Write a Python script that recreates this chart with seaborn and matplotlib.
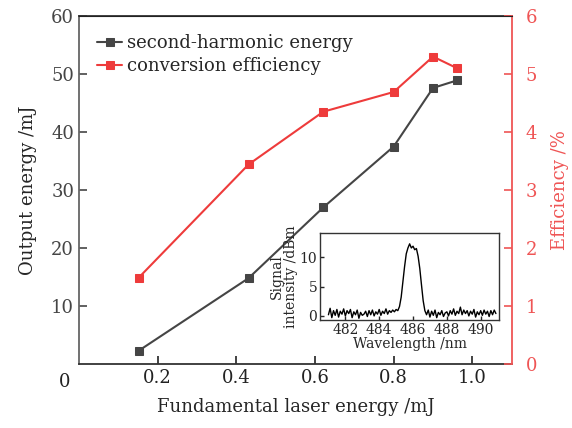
import numpy as np
import pandas as pd
import matplotlib
matplotlib.use("Agg")
import matplotlib.pyplot as plt
import seaborn as sns

# ---- data ----
fund_energy = [0.152, 0.431, 0.621, 0.800, 0.900, 0.961]
shg_energy = [2.3, 14.8, 27.0, 37.5, 47.6, 48.9]
conv_eff = [1.49, 3.44, 4.35, 4.69, 5.30, 5.10]

wl_start, wl_stop, wl_n = 481.0, 490.9, 100
signal = [0.2, 1.3, -0.3, 0.9, 0.1, 1.1, -0.2, 0.8, 0.3, 1.2,
          0.0, 0.9, 0.4, 1.1, -0.3, 0.7, 0.2, 1.0, -0.4, 0.6,
          0.1, 0.3, 0.8, -0.1, 0.9, 0.2, 1.0, 0.0, 0.7, 0.3,
          1.1, 0.1, 0.8, 0.4, 1.2, 0.3, 0.9, 0.6, 1.0, 0.7,
          1.1, 0.9, 1.6, 3.2, 5.8, 8.4, 10.6, 11.6, 12.3, 11.6,
          11.9, 11.3, 11.5, 10.2, 8.1, 5.3, 2.6, 0.9, 0.2, 1.0,
          -0.2, 0.8, 0.1, 1.0, -0.3, 0.6, 0.2, 0.9, -0.1, 0.5,
          0.7, 0.0, 0.9, 0.3, 1.2, 0.1, 0.8, 0.4, 1.5, 0.2,
          1.0, 0.4, 0.9, 0.0, 0.8, 0.3, 1.1, -0.2, 0.7, 0.2,
          0.9, 0.1, 1.0, 0.3, 0.8, -0.1, 0.9, 0.2, 1.0, 0.4]
wavelength = np.round(np.linspace(wl_start, wl_stop, wl_n), 2)

x_ticks = [0.2, 0.4, 0.6, 0.8, 1.0]
y_ticks = [10, 20, 30, 40, 50, 60]
y2_ticks = [0, 1, 2, 3, 4, 5, 6]
inset_xticks = [482, 484, 486, 488, 490]
inset_yticks = [0, 5, 10]

# ---- style ----
sns.set_style("ticks")
plt.rcParams["font.family"] = ["DejaVu Serif"]
plt.rcParams["mathtext.fontset"] = "dejavuserif"

BLACK = "#454545"
RED = "#ee3b3b"
AXRED = "#ef5555"
FS = 13

df = pd.DataFrame({"x": fund_energy, "shg": shg_energy, "eff": conv_eff})
spec = pd.DataFrame({"wl": wavelength, "sig": signal})

fig = plt.figure(figsize=(5.72, 4.28), dpi=100)
ax = fig.add_axes([0.1381, 0.1495, 0.7565, 0.8131])
ax2 = ax.twinx()

sns.lineplot(data=df, x="x", y="shg", ax=ax, color=BLACK, marker="s",
             markersize=6, markeredgecolor=BLACK, linewidth=1.5,
             label="second-harmonic energy", legend=False)
sns.lineplot(data=df, x="x", y="eff", ax=ax2, color=RED, marker="s",
             markersize=6, markeredgecolor=RED, linewidth=1.5,
             label="conversion efficiency", legend=False)

ax.set_xlim(0, 1.1)
ax.set_ylim(0, 60)
ax2.set_ylim(0, 6)
ax.set_xticks(x_ticks)
ax.set_xticklabels([f"{v:.1f}" for v in x_ticks], fontsize=FS)
ax.set_yticks(y_ticks)
ax.set_yticklabels([str(v) for v in y_ticks], fontsize=FS)
ax2.set_yticks(y2_ticks)
ax2.set_yticklabels([str(v) for v in y2_ticks], fontsize=FS, color=AXRED)

ax.tick_params(axis="both", direction="in", length=6, width=1.2, colors="#222222")
ax.tick_params(axis="y", colors=BLACK)
ax2.tick_params(axis="y", direction="in", length=6, width=1.2, colors=AXRED, pad=10)
for t in ax2.get_yticklabels():
    t.set_color(AXRED)

for sp in ["left", "bottom", "top"]:
    ax.spines[sp].set_color("#333333")
    ax.spines[sp].set_linewidth(1.3)
ax.spines["left"].set_color("#666666")
ax2.spines["right"].set_color(AXRED)
ax2.spines["right"].set_linewidth(1.3)
ax2.spines["top"].set_visible(True)
ax2.spines["top"].set_color("#222222")
ax.spines["right"].set_visible(False)
ax2.spines["left"].set_visible(False)
ax2.spines["bottom"].set_visible(False)

ax.set_xlabel("Fundamental laser energy /mJ", fontsize=FS, labelpad=8)
ax.set_ylabel("Output energy /mJ", fontsize=FS, labelpad=10)
ax2.set_ylabel("Efficiency /%", fontsize=FS, color=AXRED, labelpad=10)

ax.annotate("0", xy=(0, 0), xycoords="data", xytext=(-10, -13),
            textcoords="offset points", ha="center", va="center", fontsize=FS,
            color="#222222")

# legend
h1, l1 = ax.get_legend_handles_labels()
h2, l2 = ax2.get_legend_handles_labels()
ax.legend(h1 + h2, l1 + l2, loc="upper left", bbox_to_anchor=(0.0, 1.0),
          frameon=False, fontsize=FS, handlelength=1.4, handletextpad=0.25,
          labelspacing=0.3, borderaxespad=0.6)

# inset
axi = fig.add_axes([0.5594, 0.2523, 0.3135, 0.2026])
axi.set_facecolor("white")
sns.lineplot(data=spec, x="wl", y="sig", ax=axi, color="black", linewidth=1.0)
axi.set_xlim(480.5, 491.1)
axi.set_ylim(-0.7, 14.1)
axi.set_xticks(inset_xticks)
axi.set_xticklabels([str(v) for v in inset_xticks], fontsize=10)
axi.set_yticks(inset_yticks)
axi.set_yticklabels([str(v) for v in inset_yticks], fontsize=10)
axi.tick_params(direction="in", length=3, width=1, pad=2)
axi.set_xlabel("Wavelength /nm", fontsize=10, labelpad=0)
axi.set_ylabel("Signal\nintensity /dBm", fontsize=10, labelpad=1, linespacing=1.0)
for sp in axi.spines.values():
    sp.set_color("#333333")
    sp.set_linewidth(1.0)

fig.savefig("out.png", dpi=100)
